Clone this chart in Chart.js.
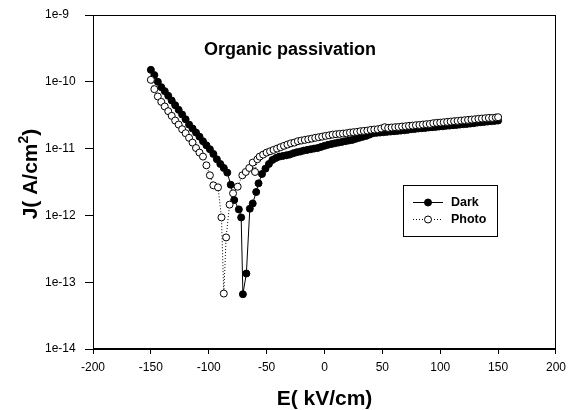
<!DOCTYPE html>
<html>
<head>
<meta charset="utf-8">
<script src="https://cdn.jsdelivr.net/npm/chart.js@4.4.0/dist/chart.umd.min.js"></script>
<style>
  html, body { margin: 0; padding: 0; background: #fff; }
  #wrap { width: 572px; height: 410px; position: relative; }
</style>
</head>
<body>
<div id="wrap"><canvas id="ivChart" width="572" height="410"></canvas></div>
<script>
// E field (kV/cm) and current density J (A/cm2)
const darkE = [-150, -147, -144, -141, -138, -135, -132, -129, -126, -123, -120, -117, -114, -111, -108, -105, -102, -99, -96, -93,
  -90, -87, -84, -81, -78, -74, -72, -70.5, -67.5, -64.5, -62, -59, -57, -54, -51, -48, -45, -42, -39, -36,
  -33, -30, -27, -24, -21, -18, -15, -12, -9, -6, -3, 0, 3, 6, 9, 12, 15, 18, 21, 24,
  27, 30, 33, 36, 39, 42, 45, 48, 51, 54, 57, 60, 63, 66, 69, 72, 75, 78, 81, 84,
  87, 90, 93, 96, 99, 102, 105, 108, 111, 114, 117, 120, 123, 126, 129, 132, 135, 138, 141, 144, 147, 150];
const darkJ = [1.51e-10, 1.26e-10, 1.00e-10, 8.32e-11, 7.24e-11, 6.17e-11, 5.25e-11, 4.47e-11, 3.80e-11, 3.24e-11, 2.75e-11, 2.29e-11, 2.00e-11, 1.74e-11, 1.51e-11, 1.29e-11, 1.12e-11, 9.77e-12, 8.32e-12, 6.92e-12,
  5.89e-12, 5.13e-12, 4.37e-12, 2.88e-12, 1.70e-12, 1.23e-12, 9.33e-13, 6.61e-14, 1.35e-13, 1.26e-12, 1.51e-12, 2.24e-12, 3.02e-12, 4.17e-12, 5.01e-12, 5.89e-12, 6.76e-12, 7.24e-12, 7.59e-12, 7.76e-12,
  7.94e-12, 8.13e-12, 8.51e-12, 8.81e-12, 9.02e-12, 9.33e-12, 9.55e-12, 9.77e-12, 1.00e-11, 1.02e-11, 1.06e-11, 1.10e-11, 1.14e-11, 1.17e-11, 1.20e-11, 1.23e-11, 1.26e-11, 1.29e-11, 1.32e-11, 1.35e-11,
  1.40e-11, 1.45e-11, 1.50e-11, 1.55e-11, 1.62e-11, 1.70e-11, 1.72e-11, 1.74e-11, 1.76e-11, 1.78e-11, 1.80e-11, 1.82e-11, 1.84e-11, 1.86e-11, 1.88e-11, 1.91e-11, 1.95e-11, 1.97e-11, 2.00e-11, 2.02e-11,
  2.04e-11, 2.07e-11, 2.09e-11, 2.11e-11, 2.14e-11, 2.16e-11, 2.19e-11, 2.21e-11, 2.24e-11, 2.26e-11, 2.29e-11, 2.32e-11, 2.34e-11, 2.37e-11, 2.40e-11, 2.45e-11, 2.48e-11, 2.51e-11, 2.54e-11, 2.57e-11, 2.60e-11, 2.63e-11];

const photoE = [-150, -147, -144, -141, -138, -135, -132, -129, -126, -123, -120, -117, -114, -111, -108, -105, -102, -99, -96, -92,
  -89, -87, -85, -82, -79, -75, -71, -68, -65, -62, -60, -58, -56, -53, -50, -47, -44, -41, -38, -35,
  -32, -29, -26, -23, -20, -17, -14, -11, -8, -5, -2, 1, 4, 7, 10, 13, 16, 19, 22, 25,
  28, 31, 34, 37, 40, 43, 46, 49, 52, 55, 58, 61, 64, 67, 70, 73, 76, 79, 82, 85,
  88, 91, 94, 97, 100, 103, 106, 109, 112, 115, 118, 121, 124, 127, 130, 133, 136, 139, 142, 145, 148, 150];
const photoJ = [1.07e-10, 7.76e-11, 6.03e-11, 5.01e-11, 4.27e-11, 3.63e-11, 3.09e-11, 2.63e-11, 2.29e-11, 1.95e-11, 1.70e-11, 1.45e-11, 1.23e-11, 1.02e-11, 8.71e-12, 7.59e-12, 5.62e-12, 3.98e-12, 2.82e-12, 2.63e-12,
  9.33e-13, 6.76e-14, 4.68e-13, 1.45e-12, 2.14e-12, 2.69e-12, 3.98e-12, 4.47e-12, 5.13e-12, 6.17e-12, 4.47e-12, 6.92e-12, 7.59e-12, 8.13e-12, 8.71e-12, 9.12e-12, 9.55e-12, 1.00e-11, 1.05e-11, 1.10e-11,
  1.15e-11, 1.20e-11, 1.23e-11, 1.29e-11, 1.32e-11, 1.35e-11, 1.38e-11, 1.41e-11, 1.45e-11, 1.48e-11, 1.51e-11, 1.55e-11, 1.58e-11, 1.62e-11, 1.64e-11, 1.66e-11, 1.68e-11, 1.70e-11, 1.74e-11, 1.76e-11,
  1.78e-11, 1.82e-11, 1.84e-11, 1.86e-11, 1.91e-11, 1.93e-11, 1.95e-11, 2.00e-11, 2.09e-11, 2.04e-11, 2.07e-11, 2.09e-11, 2.11e-11, 2.14e-11, 2.16e-11, 2.19e-11, 2.21e-11, 2.24e-11, 2.26e-11, 2.29e-11,
  2.32e-11, 2.34e-11, 2.40e-11, 2.43e-11, 2.45e-11, 2.48e-11, 2.51e-11, 2.54e-11, 2.57e-11, 2.60e-11, 2.63e-11, 2.66e-11, 2.69e-11, 2.72e-11, 2.75e-11, 2.79e-11, 2.82e-11, 2.85e-11, 2.88e-11, 2.88e-11, 2.92e-11, 2.95e-11];

const yTickValues = [1e-14, 1e-13, 1e-12, 1e-11, 1e-10, 1e-9];
const yTickLabels = ['1e-14', '1e-13', '1e-12', '1e-11', '1e-10', '1e-9'];
const seriesNames = ['Dark', 'Photo'];

const FONT = '"Liberation Sans", Arial, Helvetica, sans-serif';

function toPoints(xs, ys) {
    return xs.map((x, i) => ({ x: x, y: ys[i] }));
}

// frame, title, axis titles and the little legend box
const decorations = {
    id: 'decorations',
    afterDraw(chart) {
        const ctx = chart.ctx;
        const a = chart.chartArea;
        ctx.save();
        ctx.strokeStyle = '#000';
        ctx.lineWidth = 1;
        ctx.strokeRect(Math.round(a.left) + 0.5, Math.round(a.top) + 0.5,
            Math.round(a.right - a.left) - 1, Math.round(a.bottom - a.top) - 1);

        ctx.fillStyle = '#000';
        ctx.textBaseline = 'alphabetic';
        ctx.textAlign = 'left';
        ctx.font = 'bold 18px ' + FONT;
        ctx.fillText('Organic passivation', 204, 55);

        // x title
        ctx.font = 'bold 21px ' + FONT;
        ctx.textAlign = 'center';
        ctx.fillText('E( kV/cm)', (a.left + a.right) / 2, 405);

        // y title with superscript
        ctx.save();
        ctx.translate(37, 174);
        ctx.rotate(-Math.PI / 2);
        const big = 'bold 21px ' + FONT, small = 'bold 14px ' + FONT;
        ctx.font = big;
        const w1 = ctx.measureText('J( A/cm').width;
        const w3 = ctx.measureText(')').width;
        ctx.font = small;
        const w2 = ctx.measureText('2').width;
        let x = -(w1 + w2 + w3) / 2;
        ctx.textAlign = 'left';
        ctx.font = big;
        ctx.fillText('J( A/cm', x, 0);
        x += w1;
        ctx.font = small;
        ctx.fillText('2', x, -9);
        x += w2;
        ctx.font = big;
        ctx.fillText(')', x, 0);
        ctx.restore();

        // legend
        ctx.strokeRect(403.5, 185.5, 94, 51);
        const rows = [202.5, 219.5];
        rows.forEach((y, i) => {
            ctx.beginPath();
            ctx.setLineDash(i === 0 ? [] : [1, 2]);
            ctx.moveTo(413, y);
            ctx.lineTo(443, y);
            ctx.stroke();
            ctx.setLineDash([]);
            ctx.beginPath();
            ctx.arc(428, y, 3.5, 0, Math.PI * 2);
            ctx.fillStyle = i === 0 ? '#000' : '#fff';
            ctx.fill();
            ctx.stroke();
            ctx.fillStyle = '#000';
            ctx.font = 'bold 12.5px ' + FONT;
            ctx.textAlign = 'left';
            ctx.textBaseline = 'middle';
            ctx.fillText(seriesNames[i], 451, y + 0.5);
        });
        ctx.restore();
    }
};

const ctx = document.getElementById('ivChart').getContext('2d');
new Chart(ctx, {
    type: 'line',
    data: {
        datasets: [
            {
                label: seriesNames[1],
                data: toPoints(photoE, photoJ),
                borderColor: '#000',
                borderWidth: 1,
                borderDash: [1, 2],
                pointRadius: 3.5,
                pointBorderWidth: 1,
                pointBackgroundColor: '#fff',
                pointBorderColor: '#000',
                tension: 0
            },
            {
                label: seriesNames[0],
                data: toPoints(darkE, darkJ),
                borderColor: '#000',
                borderWidth: 1,
                pointRadius: 3.5,
                pointBorderWidth: 1,
                pointBackgroundColor: '#000',
                pointBorderColor: '#000',
                tension: 0
            }
        ]
    },
    options: {
        responsive: false,
        animation: false,
        layout: { padding: { left: 45, right: 14, top: 15, bottom: 0 } },
        plugins: {
            legend: { display: false },
            tooltip: { enabled: false }
        },
        scales: {
            x: {
                type: 'linear',
                min: -200,
                max: 200,
                afterFit: (scale) => { scale.height = 61; },
                ticks: {
                    stepSize: 50,
                    color: '#000',
                    padding: 6,
                    maxRotation: 0,
                    font: { family: FONT, size: 12 }
                },
                grid: { display: true, drawOnChartArea: false, drawTicks: true, tickLength: 5, color: '#000' },
                border: { display: true, color: '#000', width: 1 }
            },
            y: {
                type: 'logarithmic',
                min: 1e-14,
                max: 1e-9,
                afterFit: (scale) => { scale.width = 48; },
                afterBuildTicks: (scale) => {
                    scale.ticks = yTickValues.map(v => ({ value: v }));
                },
                ticks: {
                    color: '#000',
                    crossAlign: 'far',
                    font: { family: FONT, size: 12 },
                    callback: (value, index) => yTickLabels[index]
                },
                grid: { display: true, drawOnChartArea: false, drawTicks: true, tickLength: 8, color: '#000' },
                border: { display: true, color: '#000', width: 1 }
            }
        }
    },
    plugins: [decorations]
});
</script>
</body>
</html>
